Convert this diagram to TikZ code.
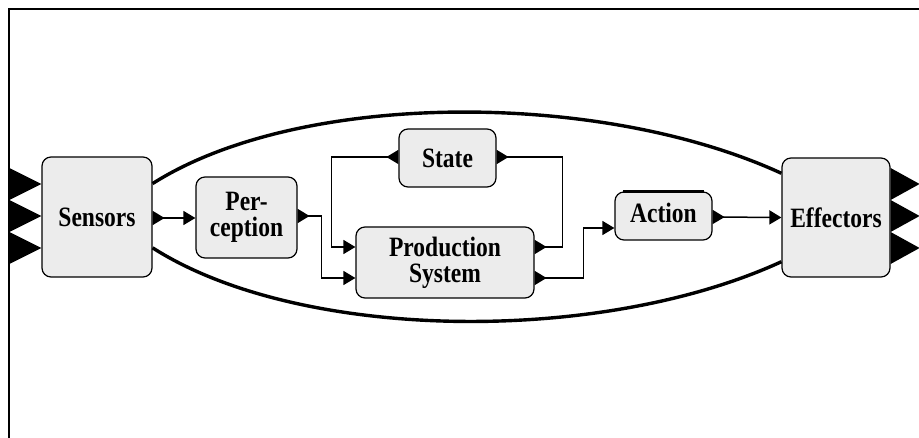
\documentclass[tikz,border=0pt]{standalone}
\usepackage{fontspec}
\setmainfont{Liberation Serif}
\newfontfamily\boxfont[FakeStretch=0.84]{Liberation Serif}
\usetikzlibrary{arrows.meta,calc}
\definecolor{boxgray}{RGB}{236,236,236}
\tikzset{
  outport/.tip={Triangle[reversed,length=12pt,width=14pt]},
  inport/.tip={Triangle[length=12pt,width=14pt]},
}
\begin{document}
\begin{tikzpicture}[x=1pt,y=-1pt,
  box/.style={draw=black,line width=1.2pt,fill=boxgray,rounded corners=9pt,inner sep=0pt,align=center,
    font=\boxfont\bfseries\fontsize{28}{26}\selectfont},
  wire/.style={line width=1.5pt},
  rim/.style={line width=3.4pt},
  bigport/.style={fill=black}
]
\useasboundingbox (0,0) rectangle (919,438);
% frame
\draw[line width=2pt] (9,438) -- (9,9) -- (919,9);

% boxes
\node[box,minimum width=110pt,minimum height=120pt] (sens) at (97,217) {Sensors};
\node[box,minimum width=101pt,minimum height=81pt] (perc) at (246.5,217.5) {Per-\\ception};
\node[box,minimum width=97pt,minimum height=58pt] (state) at (447.5,158) {State};
\node[box,minimum width=178pt,minimum height=71pt] (prod) at (445,262.5) {Production\\System};
\node[box,minimum width=97pt,minimum height=48pt] (act) at (663.5,216) {\raisebox{7pt}{Action}};
\node[box,minimum width=108pt,minimum height=119pt] (eff) at (836,217.5) {Effectors};
\draw[line width=2.5pt] ([xshift=9pt]act.north west) -- ([xshift=-9pt]act.north east);

% big ports
\foreach \d in {-33,-1,31}
  \fill[bigport] ($(sens.west)+(-32,\d-16)$) -- ($(sens.west)+(0,\d)$) -- ($(sens.west)+(-32,\d+16)$) -- cycle;
\foreach \d in {-33.5,-1.5,30.5}
  \fill[bigport] ($(eff.east)+(0,\d-16)$) -- ($(eff.east)+(29,\d)$) -- ($(eff.east)+(0,\d+16)$) -- cycle;

% outer arcs
\draw[rim] (sens.31.7) .. controls (300,90) and (600,90) .. (eff.141.8);
\draw[rim] (sens.331.4) .. controls (300,342) and (600,345) .. (eff.219.5);

% connectors
\draw[wire,outport-inport] ($(sens.east)+(0,1)$) -- ($(perc.west)+(0,0.5)$);
\draw[wire,outport-inport] ($(perc.east)+(0,-1.5)$) -- ++(24,0) |- ($(prod.west)+(0,15.5)$);
\draw[wire,outport-inport] ($(state.west)+(0,-1)$) -- ++(-67,0) |- ($(prod.west)+(0,-15.5)$);
\draw[wire,outport-outport] ($(prod.east)+(0,-15.5)$) -- ++(28,0) |- ($(state.east)+(0,-1)$);
\draw[wire,outport-inport] ($(prod.east)+(0,15.5)$) -- ++(49,0) |- ($(act.west)+(0,12)$);
\draw[wire,outport-inport] ($(act.east)+(0,1)$) -- ($(eff.west)+(0,0)$);
\end{tikzpicture}
\end{document}
